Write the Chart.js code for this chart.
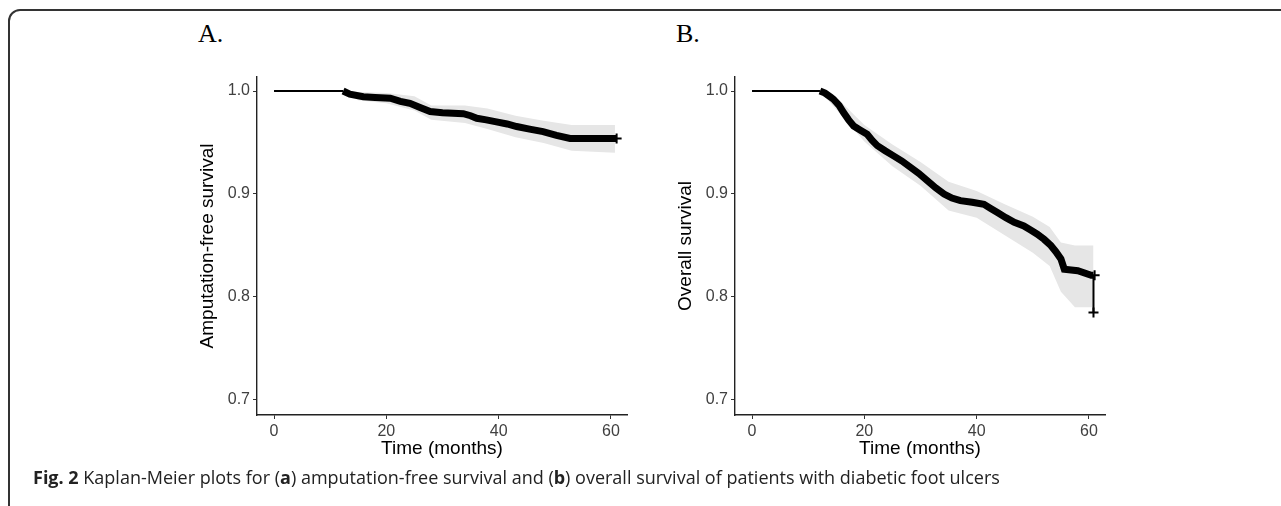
<!DOCTYPE html>
<html>
<head>
<meta charset="utf-8">
<script src="https://cdn.jsdelivr.net/npm/chart.js@4.4.1/dist/chart.umd.min.js"></script>
<style>
	body { margin:0; background:#fff; width:1281px; height:506px; overflow:hidden; position:relative; }
	.frame { position:absolute; left:8px; top:9px; width:1300px; height:600px; border:2px solid #333; border-radius:12px; }
	.panel { position:absolute; top:60px; }
	.lab { position:absolute; top:19px; font-family:"Liberation Serif", serif; font-size:26px; color:#000; }
	.cap { position:absolute; left:33px; top:465px; font-family:"Open Sans", sans-serif; font-size:18px; color:#222; white-space:nowrap; }
</style>
</head>
<body>
<div class="frame"></div>
<div class="lab" style="left:198px">A.</div>
<div class="lab" style="left:676px">B.</div>
<canvas id="chart_a" class="panel" style="left:150px" width="490" height="410"></canvas>
<canvas id="chart_b" class="panel" style="left:628px" width="490" height="410"></canvas>
<div class="cap"><b>Fig. 2</b> Kaplan-Meier plots for (<b>a</b>) amputation-free survival and (<b>b</b>) overall survival of patients with diabetic foot ulcers</div>
<script>
// ----------------------------------------------------------------------
//  data
// ----------------------------------------------------------------------
var xTicks = [0, 20, 40, 60];
var yTicks = [0.7, 0.8, 0.9, 1.0];

// A. amputation-free survival
var aFlatTime = [0, 12.3];
var aFlatSurv = [1.0, 1.0];
var aTime = [12.3, 13.5, 15.9, 18, 20.7, 22.5, 24.2, 26, 27.8, 30, 33.7, 35, 36.1, 37.8, 39.6, 41.5, 43.2, 45.5, 47.9, 50.3, 52.7, 61];
var aSurv = [1.0, 0.997, 0.9945, 0.9938, 0.993, 0.990, 0.988, 0.984, 0.980, 0.979, 0.978, 0.976, 0.9735, 0.972, 0.970, 0.968, 0.9655, 0.963, 0.9605, 0.957, 0.954, 0.954];
var aBandTime = [12.3, 15, 20, 25, 28, 34, 38, 43, 48, 53, 60.7];
var aLower = [1.0, 0.991, 0.988, 0.981, 0.972, 0.969, 0.963, 0.955, 0.9495, 0.942, 0.940];
var aUpper = [1.0, 0.999, 0.998, 0.995, 0.986, 0.986, 0.983, 0.976, 0.971, 0.967, 0.967];
var aCensorTime = [61];
var aCensorSurv = [0.954];

// B. overall survival
var bFlatTime = [0, 12.1];
var bFlatSurv = [1.0, 1.0];
var bTime = [12.1, 13, 14, 14.5, 15.5, 16.3, 17.2, 18.1, 19.3, 20.5, 21.4, 22.3, 23.7, 25.2, 26.7, 28.2, 29.7, 31.2, 32.7, 34.2, 35.6, 37.1, 39.2, 41.3, 42.5, 43.7, 45.2, 46.7, 48.4, 49.6, 50.8, 52, 53.2, 54.1, 55, 55.6, 58, 60.4, 60.8];
var bSurv = [1.0, 0.998, 0.994, 0.992, 0.986, 0.979, 0.972, 0.966, 0.962, 0.958, 0.952, 0.947, 0.942, 0.937, 0.932, 0.926, 0.920, 0.913, 0.906, 0.900, 0.896, 0.8935, 0.892, 0.890, 0.886, 0.882, 0.877, 0.8725, 0.869, 0.865, 0.861, 0.856, 0.850, 0.844, 0.837, 0.827, 0.8255, 0.821, 0.821];
var bTailTime = [60.8, 60.8];
var bTailSurv = [0.821, 0.785];
var bBandTime = [12.1, 15, 20, 25, 30, 35, 40, 45, 50, 53, 55, 57.5, 60.8];
var bLower = [1.0, 0.982, 0.951, 0.927, 0.908, 0.884, 0.877, 0.860, 0.843, 0.830, 0.805, 0.790, 0.790];
var bUpper = [1.0, 0.994, 0.967, 0.948, 0.931, 0.912, 0.903, 0.890, 0.878, 0.868, 0.853, 0.850, 0.850];
var bCensorTime = [60.8, 61];
var bCensorSurv = [0.785, 0.821];

// ----------------------------------------------------------------------
//  drawing
// ----------------------------------------------------------------------
function pts(xs, ys){
	return xs.map(function(x, i){ return {x: x, y: ys[i]}; });
}

var tickFont = {family: 'Liberation Sans', size: 16};
var titleFont = {family: 'Liberation Sans', size: 19};

var drawPanel = function(id, yTitle, flat, main, tail, band, censor){
	var ctx = document.getElementById(id).getContext('2d');
	var datasets = [
		{data: flat, borderColor: '#000', borderWidth: 2, stepped: true, pointRadius: 0, fill: false},
		{data: main, borderColor: '#000', borderWidth: 7, borderJoinStyle: 'miter', pointRadius: 0, fill: false},
		{data: tail, borderColor: '#000', borderWidth: 2, stepped: true, pointRadius: 0, fill: false},
		{data: censor, showLine: false, pointStyle: 'cross', pointRadius: 5, pointBorderWidth: 2, borderColor: '#000', fill: false},
		{data: band[0], borderWidth: 0, pointRadius: 0, backgroundColor: '#e6e6e6', fill: '+1'},
		{data: band[1], borderWidth: 0, pointRadius: 0, fill: false}
	];
	var config = {
		type: 'line',
		data: {datasets: datasets},
		options: {
			responsive: false,
			animation: false,
			devicePixelRatio: 1,
			layout: {padding: {top: 17, right: 13, left: 0, bottom: 0}},
			plugins: {legend: {display: false}, tooltip: {enabled: false}},
			scales: {
				x: {
					type: 'linear', min: -3.03, max: 62.85,
					afterBuildTicks: function(s){ s.ticks = xTicks.map(function(v){ return {value: v}; }); },
					afterFit: function(s){ s.height = 55; },
					ticks: {font: tickFont, color: '#404040', padding: 3, maxRotation: 0},
					grid: {drawOnChartArea: false, tickLength: 4, color: '#333', tickWidth: 1},
					border: {color: '#222', width: 1.4},
					title: {display: true, text: 'Time (months)', font: titleFont, color: '#000', padding: {top: 0, bottom: 10}}
				},
				y: {
					min: 0.6854, max: 1.0136,
					afterBuildTicks: function(s){ s.ticks = yTicks.map(function(v){ return {value: v}; }); },
					afterFit: function(s){ s.width = 107; },
					ticks: {font: tickFont, color: '#404040', padding: 3, callback: function(v){ return v.toFixed(1); }},
					grid: {drawOnChartArea: false, tickLength: 4, color: '#333', tickWidth: 1},
					border: {color: '#222', width: 1.4},
					title: {display: true, text: yTitle, font: titleFont, color: '#000', padding: {top: 46, bottom: 0}}
				}
			}
		}
	};
	return new Chart(ctx, config);
};

window.onload = function(){
	drawPanel('chart_a', 'Amputation-free survival',
		pts(aFlatTime, aFlatSurv), pts(aTime, aSurv), [],
		[pts(aBandTime, aUpper), pts(aBandTime, aLower)],
		pts(aCensorTime, aCensorSurv));
	drawPanel('chart_b', 'Overall survival',
		pts(bFlatTime, bFlatSurv), pts(bTime, bSurv), pts(bTailTime, bTailSurv),
		[pts(bBandTime, bUpper), pts(bBandTime, bLower)],
		pts(bCensorTime, bCensorSurv));
};
</script>
</body>
</html>
